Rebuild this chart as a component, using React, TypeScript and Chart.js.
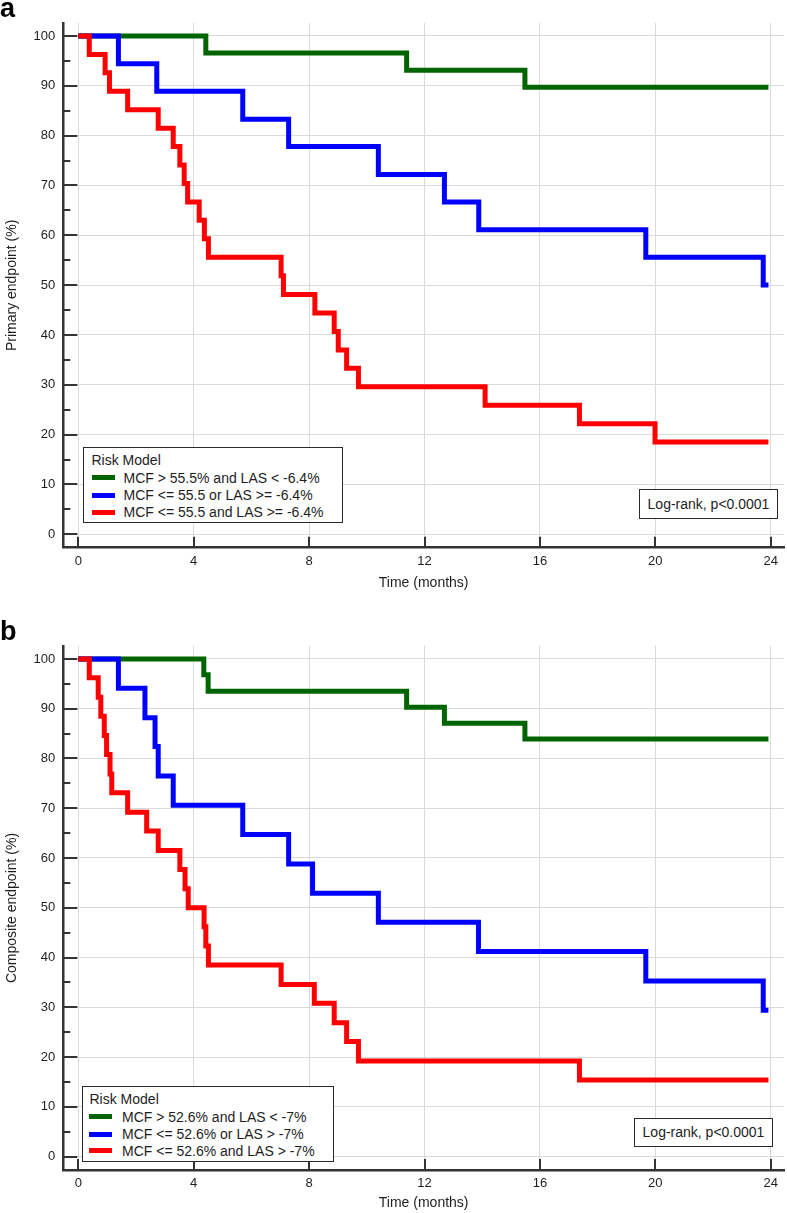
import React, { useEffect, useRef } from "react";
import { Chart, registerables } from "chart.js";

Chart.register(...registerables);

// ---------- data ----------
const xTicks = [0, 4, 8, 12, 16, 20, 24];
const yTicks = [0, 10, 20, 30, 40, 50, 60, 70, 80, 90, 100];
const yMinorTicks = [5, 15, 25, 35, 45, 55, 65, 75, 85, 95];

const seriesColors = ["#006400", "#0000ff", "#ff0000"];

// Panel a (Primary endpoint)
const aGreenT = [0, 4.42, 11.38, 15.48, 23.92];
const aGreenS = [100, 96.6, 93.1, 89.7, 89.7];
const aBlueT = [0, 1.39, 2.72, 5.7, 7.29, 10.4, 12.69, 13.88, 19.67, 23.74, 23.92];
const aBlueS = [100, 94.4, 88.9, 83.3, 77.8, 72.2, 66.7, 61.1, 55.6, 50.0, 50.0];
const aRedT = [0, 0.38, 0.93, 1.08, 1.71, 2.77, 3.29, 3.52, 3.67, 3.79, 4.19, 4.37, 4.51, 7.03, 7.11, 8.2, 8.87, 9.01, 9.3, 9.71, 14.1, 17.37, 19.99, 23.92];
const aRedS = [100, 96.3, 92.6, 88.9, 85.2, 81.5, 77.8, 74.1, 70.4, 66.7, 63.0, 59.3, 55.6, 51.9, 48.1, 44.4, 40.7, 37.0, 33.3, 29.6, 25.9, 22.2, 18.5, 18.5];
const aLegendLabels = [
  "MCF > 55.5% and LAS < -6.4%",
  "MCF <= 55.5 or LAS >= -6.4%",
  "MCF <= 55.5 and LAS >= -6.4%",
];

// Panel b (Composite endpoint)
const bGreenT = [0, 4.35, 4.5, 11.38, 12.69, 15.48, 23.92];
const bGreenS = [100, 96.8, 93.5, 90.3, 87.1, 83.9, 83.9];
const bBlueT = [0, 1.39, 2.31, 2.66, 2.77, 3.29, 5.7, 7.29, 8.12, 10.4, 13.87, 19.67, 23.74, 23.92];
const bBlueS = [100, 94.1, 88.2, 82.4, 76.5, 70.6, 64.7, 58.8, 52.9, 47.1, 41.2, 35.3, 29.4, 29.4];
const bRedT = [0, 0.38, 0.69, 0.78, 0.9, 0.98, 1.1, 1.16, 1.71, 2.37, 2.77, 3.52, 3.7, 3.81, 4.36, 4.42, 4.51, 7.03, 8.18, 8.87, 9.3, 9.71, 17.37, 23.92];
const bRedS = [100, 96.2, 92.3, 88.5, 84.6, 80.8, 76.9, 73.1, 69.2, 65.4, 61.5, 57.7, 53.8, 50.0, 46.2, 42.3, 38.5, 34.6, 30.8, 26.9, 23.1, 19.2, 15.4, 15.4];
const bLegendLabels = [
  "MCF > 52.6% and LAS < -7%",
  "MCF <= 52.6% or LAS > -7%",
  "MCF <= 52.6% and LAS > -7%",
];

const legendTitle = "Risk Model";
const logRankText = "Log-rank, p<0.0001";
const xTitle = "Time (months)";

// ---------- styling ----------
const FONT = "'Liberation Sans', Arial, Helvetica, sans-serif";
const AXIS_COLOR = "#333333";
const TEXT_COLOR = "#1e1e1e";

const innerTicksPlugin = {
  id: "innerTicks",
  beforeDatasetsDraw(chart: any) {
    const { ctx, chartArea, scales } = chart;
    const xs = scales.x;
    const ys = scales.y;
    const x0 = xs.getPixelForValue(0);
    ctx.save();
    ctx.strokeStyle = AXIS_COLOR;
    ctx.lineWidth = 2;
    ctx.beginPath();
    yTicks.forEach((v) => {
      const y = Math.round(ys.getPixelForValue(v)) + 0.0;
      ctx.moveTo(chartArea.left, y);
      ctx.lineTo(x0 - 1, y);
    });
    yMinorTicks.forEach((v) => {
      const y = Math.round(ys.getPixelForValue(v));
      ctx.moveTo(chartArea.left, y);
      ctx.lineTo(chartArea.left + 7, y);
    });
    xTicks.forEach((v) => {
      const x = Math.round(xs.getPixelForValue(v));
      ctx.moveTo(x, chartArea.bottom);
      ctx.lineTo(x, chartArea.bottom - 11);
    });
    ctx.stroke();
    ctx.restore();
  },
};

type Series = { label: string; color: string; t: number[]; s: number[] };

type PanelProps = {
  top: number;
  height: number;
  xAxisHeight: number;
  xTitlePadBottom: number;
  yTitle: string;
  series: Series[];
  legendBox: { left: number; top: number; width: number; height: number; titleY: number; rowY: number[]; sampleX: number; textX: number; titleX: number };
  logBox: { left: number; top: number; width: number; height: number };
  letter: string;
};

function KMPanel(props: PanelProps) {
  const ref = useRef<HTMLCanvasElement | null>(null);
  useEffect(() => {
    if (!ref.current) return;
    const chart = new Chart(ref.current, {
      type: "line",
      data: {
        datasets: props.series.map((s, i) => ({
          label: s.label,
          data: s.t.map((t, j) => ({ x: t, y: s.s[j] })),
          borderColor: s.color,
          backgroundColor: s.color,
          borderWidth: 5,
          stepped: "before" as const,
          pointRadius: 0,
          fill: false,
          order: props.series.length - i,
          borderCapStyle: "butt" as const,
          borderJoinStyle: "miter" as const,
        })),
      },
      options: {
        animation: false,
        responsive: false,
        maintainAspectRatio: false,
        devicePixelRatio: 1,
        events: [],
        layout: { padding: { top: 23, right: 3, left: 0, bottom: 0 } },
        plugins: { legend: { display: false }, tooltip: { enabled: false }, title: { display: false } },
        scales: {
          x: {
            type: "linear",
            min: -0.52,
            max: 24.46,
            afterBuildTicks: (ax: any) => {
              ax.ticks = xTicks.map((v) => ({ value: v }));
            },
            afterFit: (ax: any) => {
              ax.height = props.xAxisHeight;
            },
            grid: { color: "#dadada", lineWidth: 1, drawTicks: false },
            border: { display: true, color: AXIS_COLOR, width: 2.5 },
            ticks: {
              font: { family: FONT, size: 13 },
              color: TEXT_COLOR,
              padding: 6,
              maxRotation: 0,
              autoSkip: false,
              callback: (v: any) => String(v),
            },
            title: {
              display: true,
              text: xTitle,
              color: TEXT_COLOR,
              font: { family: FONT, size: 14 },
              padding: { top: 0, bottom: props.xTitlePadBottom },
            },
          },
          y: {
            type: "linear",
            min: -2.7,
            max: 102.6,
            afterBuildTicks: (ax: any) => {
              ax.ticks = yTicks.map((v) => ({ value: v }));
            },
            afterFit: (ax: any) => {
              ax.width = 63.3;
            },
            grid: { color: "#dadada", lineWidth: 1, drawTicks: false },
            border: { display: true, color: AXIS_COLOR, width: 2.5 },
            ticks: {
              font: { family: FONT, size: 13 },
              color: TEXT_COLOR,
              padding: 8,
              autoSkip: false,
              callback: (v: any) => String(v),
            },
            title: {
              display: true,
              text: props.yTitle,
              color: TEXT_COLOR,
              font: { family: FONT, size: 14 },
              padding: { top: 3.6, bottom: 0 },
            },
          },
        },
      },
      plugins: [innerTicksPlugin],
    } as any);
    return () => chart.destroy();
  }, []);

  const lb = props.legendBox;
  const lg = props.logBox;
  const textStyle: React.CSSProperties = {
    position: "absolute",
    fontFamily: FONT,
    fontSize: 14,
    lineHeight: "16px",
    color: TEXT_COLOR,
    whiteSpace: "nowrap",
  };
  return (
    <div style={{ position: "absolute", left: 0, top: props.top, width: 787, height: props.height }}>
      <canvas ref={ref} width={787} height={props.height} style={{ display: "block", width: 787, height: props.height }} />
      <div
        style={{
          position: "absolute",
          left: 0,
          top: -4.6,
          fontFamily: FONT,
          fontWeight: "bold",
          fontSize: 27,
          lineHeight: "27px",
          color: "#000",
        }}
      >
        {props.letter}
      </div>
      <div
        style={{
          position: "absolute",
          left: lb.left,
          top: lb.top,
          width: lb.width,
          height: lb.height,
          border: "1px solid #2a2a2a",
          background: "#fff",
          boxSizing: "border-box",
        }}
      >
        <div style={{ ...textStyle, left: lb.titleX, top: lb.titleY - 8 }}>{legendTitle}</div>
        {props.series.map((s, i) => (
          <React.Fragment key={i}>
            <div
              style={{
                position: "absolute",
                left: lb.sampleX,
                top: lb.rowY[i] - 2.5,
                width: 23,
                height: 5,
                background: s.color,
              }}
            />
            <div style={{ ...textStyle, left: lb.textX, top: lb.rowY[i] - 8 }}>{s.label}</div>
          </React.Fragment>
        ))}
      </div>
      <div
        style={{
          position: "absolute",
          left: lg.left,
          top: lg.top,
          width: lg.width,
          height: lg.height,
          border: "1px solid #2a2a2a",
          background: "#fff",
          boxSizing: "border-box",
          fontFamily: FONT,
          fontSize: 14,
          color: TEXT_COLOR,
          display: "flex",
          alignItems: "center",
          justifyContent: "center",
          whiteSpace: "nowrap",
        }}
      >
        {logRankText}
      </div>
    </div>
  );
}

export default function App() {
  const seriesA: Series[] = [
    { label: aLegendLabels[0], color: seriesColors[0], t: aGreenT, s: aGreenS },
    { label: aLegendLabels[1], color: seriesColors[1], t: aBlueT, s: aBlueS },
    { label: aLegendLabels[2], color: seriesColors[2], t: aRedT, s: aRedS },
  ];
  const seriesB: Series[] = [
    { label: bLegendLabels[0], color: seriesColors[0], t: bGreenT, s: bGreenS },
    { label: bLegendLabels[1], color: seriesColors[1], t: bBlueT, s: bBlueS },
    { label: bLegendLabels[2], color: seriesColors[2], t: bRedT, s: bRedS },
  ];
  return (
    <div style={{ position: "absolute", left: 0, top: 0, width: 787, height: 1213, background: "#fff", overflow: "hidden" }}>
      <KMPanel
        top={0}
        height={600}
        xAxisHeight={52.3}
        xTitlePadBottom={8.9}
        yTitle="Primary endpoint (%)"
        series={seriesA}
        letter="a"
        legendBox={{ left: 83, top: 447, width: 260, height: 76, titleX: 7.5, titleY: 12, rowY: [29.7, 47.3, 64], sampleX: 7.5, textX: 39.5 }}
        logBox={{ left: 639, top: 489, width: 139, height: 30 }}
      />
      <KMPanel
        top={623}
        height={590}
        xAxisHeight={43}
        xTitlePadBottom={1.3}
        yTitle="Composite endpoint (%)"
        series={seriesB}
        letter="b"
        legendBox={{ left: 82, top: 462.7, width: 252, height: 76, titleX: 6.5, titleY: 12.3, rowY: [30.3, 47.6, 64.3], sampleX: 6.3, textX: 39 }}
        logBox={{ left: 634, top: 494.7, width: 139, height: 29 }}
      />
    </div>
  );
}
